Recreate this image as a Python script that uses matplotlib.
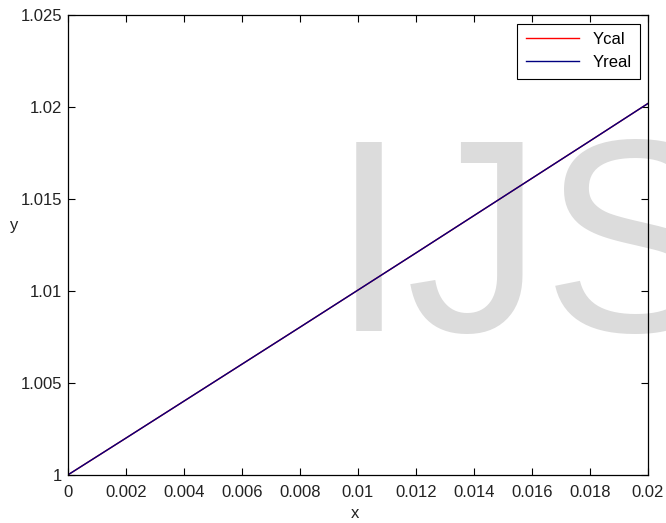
import matplotlib
matplotlib.use('Agg')
import matplotlib.pyplot as plt
from matplotlib.ticker import FuncFormatter

# valores
x = [0, 0.002, 0.004, 0.006, 0.008, 0.010, 0.012, 0.014, 0.016, 0.018, 0.020]
y_cal = [1.0, 1.002, 1.00401, 1.00602, 1.00803, 1.01005, 1.01207, 1.0141, 1.01613, 1.01816, 1.0202]
y_real = [1.0, 1.002, 1.00401, 1.00602, 1.00803, 1.01005, 1.01207, 1.0141, 1.01613, 1.01816, 1.0202]

x_ticks = [0, 0.002, 0.004, 0.006, 0.008, 0.01, 0.012, 0.014, 0.016, 0.018, 0.02]
y_ticks = [1, 1.005, 1.01, 1.015, 1.02, 1.025]

plt.rcParams['font.family'] = ['Liberation Sans', 'DejaVu Sans']

fig = plt.figure(figsize=(6.66, 5.23), dpi=100)
ax = fig.add_axes([0.102, 0.092, 0.871, 0.879])
ax.set_zorder(1)
ax.patch.set_alpha(0)

# marca de agua de fondo
fig.text(0.497, 0.367, 'IJSER', fontsize=197, color='#dcdcdc', ha='left', va='baseline', zorder=0)

ax.plot(x, y_cal, color='red', lw=1, label='Ycal')
ax.plot(x, y_real, color='#000080', lw=1, label='Yreal')

ax.set_xlim(0, 0.02)
ax.set_ylim(1, 1.025)
ax.set_xticks(x_ticks)
ax.set_yticks(y_ticks)
fmt = FuncFormatter(lambda v, p: '%g' % round(v, 6))
ax.xaxis.set_major_formatter(fmt)
ax.yaxis.set_major_formatter(fmt)
ax.tick_params(direction='in', top=True, right=True, labelsize=12, length=5, width=0.8,
               colors='black', labelcolor='#222222')
ax.tick_params(axis='x', pad=7)
ax.tick_params(axis='y', pad=4)
for s in ax.spines.values():
    s.set_linewidth(0.9)

ax.set_xlabel('x', fontsize=12, color='#222222')
ax.set_ylabel('y', fontsize=12, rotation=0, color='#222222')
ax.xaxis.set_label_coords(0.495, -0.083)
ax.yaxis.set_label_coords(-0.093, 0.543)
ax.xaxis.label.set_va('center')
ax.yaxis.label.set_va('center')

leg = ax.legend(loc='upper right', fontsize=12, fancybox=False, edgecolor='black',
                framealpha=1, borderaxespad=0.5, handlelength=3.2, labelspacing=0.5,
                borderpad=0.5)
leg.get_frame().set_linewidth(0.8)

fig.savefig('out.png', dpi=100)
